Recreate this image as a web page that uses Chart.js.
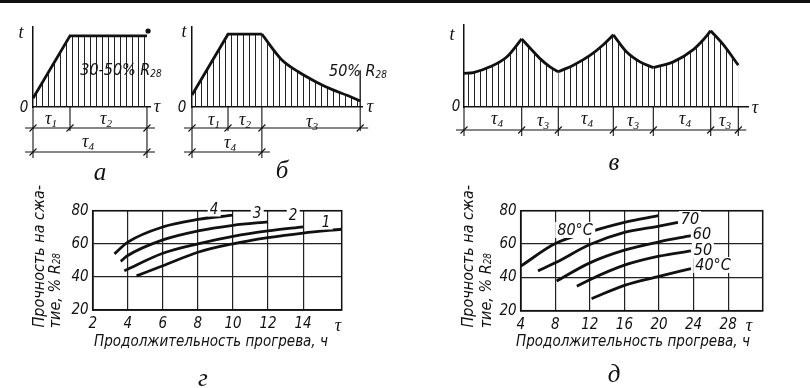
<!DOCTYPE html>
<html lang="ru">
<head>
<meta charset="UTF-8">
<meta name="viewport" content="width=device-width, initial-scale=1.0">
<title>Режимы прогрева и прочность бетона</title>
<script src="https://cdn.jsdelivr.net/npm/chart.js"></script>
<style>
    html, body { margin: 0; padding: 0; background: #fff; }
    body {
        position: relative;
        width: 810px;
        height: 388px;
        overflow: hidden;
        color: #111;
        font-family: "Liberation Sans Narrow", "DejaVu Sans Condensed", "Liberation Sans", sans-serif;
        font-style: italic;
    }
    canvas { position: absolute; }
    #topline { position: absolute; left: 0; top: 0; width: 810px; height: 3px; background: #111; }
    .t { position: absolute; transform: translate(-50%, -50%); white-space: nowrap; line-height: 1; font-size: 15px; z-index: 2; }
    .s { font-family: "Liberation Serif", serif; font-size: 18px; }
    .let { font-family: "Liberation Serif", serif; font-size: 25px; }
    .w { background: #fff; padding: 0 2px; }
    sub { font-size: 0.62em; vertical-align: -0.25em; line-height: 0; }
    /* подписи оси Y, читаются снизу вверх */
    .vt { position: absolute; writing-mode: vertical-rl; transform: rotate(180deg); white-space: nowrap;
          font-size: 16px; line-height: 17px; bottom: 60px; z-index: 2; }
</style>
</head>
<body>
    <div id="topline"></div>

    <canvas id="pa" width="165" height="190" style="left:0;top:0"></canvas>
    <canvas id="pb" width="230" height="190" style="left:165px;top:0"></canvas>
    <canvas id="pv" width="390" height="190" style="left:420px;top:0"></canvas>
    <canvas id="pg" width="360" height="198" style="left:0;top:190px"></canvas>
    <canvas id="pd" width="410" height="198" style="left:400px;top:190px"></canvas>

    <!-- а -->
    <div class="t s" style="left:21px;top:32px">t</div>
    <div class="t" style="left:24px;top:107px">0</div>
    <div class="t s" style="left:157px;top:106px">τ</div>
    <div class="t" style="left:121px;top:70px;font-size:16px">30-50% R<sub>28</sub></div>
    <div class="t s" style="left:51px;top:118px">τ<sub>1</sub></div>
    <div class="t s" style="left:106px;top:118px">τ<sub>2</sub></div>
    <div class="t s" style="left:88px;top:141px">τ<sub>4</sub></div>
    <div class="t let" style="left:100px;top:171px">а</div>

    <!-- б -->
    <div class="t s" style="left:184px;top:31px">t</div>
    <div class="t" style="left:182px;top:107px">0</div>
    <div class="t s" style="left:370px;top:106px">τ</div>
    <div class="t" style="left:358px;top:71px;font-size:16px">50% R<sub>28</sub></div>
    <div class="t s" style="left:214px;top:119px">τ<sub>1</sub></div>
    <div class="t s" style="left:245px;top:119px">τ<sub>2</sub></div>
    <div class="t s" style="left:312px;top:121px">τ<sub>3</sub></div>
    <div class="t s" style="left:230px;top:142px">τ<sub>4</sub></div>
    <div class="t let" style="left:282px;top:169px">б</div>

    <!-- в -->
    <div class="t s" style="left:452px;top:34px">t</div>
    <div class="t" style="left:456px;top:106px">0</div>
    <div class="t s" style="left:755px;top:107px">τ</div>
    <div class="t s" style="left:497px;top:118px">τ<sub>4</sub></div>
    <div class="t s" style="left:543px;top:120px">τ<sub>3</sub></div>
    <div class="t s" style="left:587px;top:118px">τ<sub>4</sub></div>
    <div class="t s" style="left:633px;top:120px">τ<sub>3</sub></div>
    <div class="t s" style="left:685px;top:118px">τ<sub>4</sub></div>
    <div class="t s" style="left:725px;top:120px">τ<sub>3</sub></div>
    <div class="t let" style="left:614px;top:161px">в</div>

    <!-- г -->
    <div class="vt" style="left:30px">Прочность на сжа-</div>
    <div class="vt" style="left:46px">тие, % R<sub>28</sub></div>
    <div class="t" style="left:211px;top:341px">Продолжительность прогрева, ч</div>
    <div class="t s" style="left:338px;top:325px">τ</div>
    <div class="t w" style="left:214px;top:209px">4</div>
    <div class="t w" style="left:257px;top:213px">3</div>
    <div class="t w" style="left:293px;top:215px">2</div>
    <div class="t w" style="left:326px;top:222px">1</div>
    <div class="t let" style="left:203px;top:377px">г</div>

    <!-- д -->
    <div class="vt" style="left:459px">Прочность на сжа-</div>
    <div class="vt" style="left:477px">тие, % R<sub>28</sub></div>
    <div class="t" style="left:633px;top:341px">Продолжительность прогрева, ч</div>
    <div class="t s" style="left:749px;top:325px">τ</div>
    <div class="t w" style="left:575px;top:230px;font-size:16px">80°C</div>
    <div class="t w" style="left:690px;top:219px;font-size:16px">70</div>
    <div class="t w" style="left:702px;top:234px;font-size:16px">60</div>
    <div class="t w" style="left:703px;top:250px;font-size:16px">50</div>
    <div class="t w" style="left:713px;top:265px;font-size:16px">40°C</div>
    <div class="t let" style="left:614px;top:373px">д</div>

    <script>
        // ---- а: подъём температуры и изотермическая выдержка (условные единицы)
        const aX = [0, 1, 3.08];
        const aT = [0.11, 0.89, 0.89];
        const aDotX = [3.11];
        const aDotT = [0.95];
        const aDim1 = [0, 1, 3.08];
        const aDim2 = [0, 3.08];

        // ---- б: подъём, выдержка, остывание
        const bRiseX = [0, 1, 1.94];
        const bRiseT = [0.15, 0.91, 0.91];
        const bCoolX = [1.94, 2.49, 2.95, 3.42, 3.88, 4.34, 4.67];
        const bCoolT = [0.91, 0.59, 0.44, 0.32, 0.22, 0.14, 0.075];
        const bMarkX = [4.67, 4.67];
        const bMarkT = [0, 0.46];
        const bDim1 = [0, 1, 1.94, 4.67];
        const bDim2 = [0, 1.94];

        // ---- в: циклический режим
        const vX = [0, 0.93, 2.6, 4.27, 5.77, 6.6, 7.6, 8.6, 9.43, 10.93, 12.6, 13.93, 14.93, 16.27, 17.6, 18.93,
                    20.93, 22.93, 23.93, 24.67, 25.93, 27.43];
        const vT = [0.41, 0.42, 0.49, 0.61, 0.83, 0.72, 0.59, 0.49, 0.43, 0.51, 0.63, 0.76, 0.88, 0.67, 0.55, 0.48,
                    0.55, 0.70, 0.82, 0.93, 0.76, 0.51];
        const vBreaks = [0, 4, 8, 12, 15, 19, 21];

        // ---- г: прочность, % R28, от продолжительности прогрева, ч
        const gTicksX = [2, 4, 6, 8, 10, 12, 14];
        const g1X = [4.5, 6, 8, 10, 12, 14, 16.2];
        const g1Y = [40.6, 46.7, 54.9, 60, 63.7, 66.5, 68.8];
        const g2X = [3.8, 6, 8, 10, 12, 14];
        const g2Y = [43.7, 54.3, 60, 64.5, 67.8, 70.2];
        const g3X = [3.6, 4, 6, 8, 10, 12];
        const g3Y = [49.4, 52.9, 62.4, 67.8, 71.2, 73.3];
        const g4X = [3.24, 4, 6, 8, 10];
        const g4Y = [53.9, 61, 70.2, 74.7, 77.3];

        // ---- д: то же при разных температурах прогрева
        const dTicksX = [4, 8, 12, 16, 20, 24, 28];
        const d80X = [4, 8, 12, 16, 19.9];
        const d80Y = [46.7, 60.3, 67.3, 73, 77];
        const d70X = [6, 8, 12, 16, 20, 22.2];
        const d70Y = [43.9, 48.7, 59.7, 67, 70.8, 73];
        const d60X = [8.15, 12, 16, 20, 23.7];
        const d60Y = [37.8, 48.7, 56.3, 61.3, 65];
        const d50X = [10.5, 12, 16, 20, 23.7];
        const d50Y = [34.6, 38.6, 47.3, 52.7, 55.9];
        const d40X = [12.2, 16, 20, 23.7];
        const d40Y = [27.2, 35.2, 40.6, 45.3];

        const INK = '#111';
        const FONT = '"Liberation Sans Narrow", "DejaVu Sans Condensed", "Liberation Sans", sans-serif';

        // вертикальная штриховка
        const HATCH = (function () {
            const c = document.createElement('canvas');
            c.width = 6; c.height = 2;
            const g = c.getContext('2d');
            g.fillStyle = '#222';
            g.fillRect(0, 0, 1, 2);
            return g.createPattern(c, 'repeat');
        })();

        function pts(xs, ys) {
            return xs.map((x, i) => ({ x: x, y: ys[i] }));
        }

        // размерные линии под осью
        function makeDims(rows, ext) {
            return {
                id: 'dims',
                afterDraw(chart) {
                    const ctx = chart.ctx;
                    const xs = chart.scales.x;
                    const base = chart.chartArea.bottom;
                    const seg = (x1, y1, x2, y2) => { ctx.beginPath(); ctx.moveTo(x1, y1); ctx.lineTo(x2, y2); ctx.stroke(); };
                    ctx.save();
                    ctx.strokeStyle = INK;
                    ctx.lineWidth = 1.1;
                    ext.forEach(e => {
                        const px = xs.getPixelForValue(e.x);
                        seg(px, base, px, base + e.len);
                    });
                    rows.forEach(r => {
                        const y = base + r.dy;
                        const p = r.ticks.map(v => xs.getPixelForValue(v));
                        seg(p[0] - 8, y, p[p.length - 1] + 8, y);
                        p.forEach(px => seg(px - 3.5, y + 3.5, px + 3.5, y - 3.5));
                    });
                    ctx.restore();
                }
            };
        }

        const framePlugin = {
            id: 'frame',
            beforeDatasetsDraw(chart) {
                const a = chart.chartArea, ctx = chart.ctx;
                ctx.save();
                ctx.strokeStyle = INK;
                ctx.lineWidth = 1.5;
                ctx.strokeRect(a.left, a.top, a.right - a.left, a.bottom - a.top);
                ctx.restore();
            }
        };

        function hatchLine(data, mode) {
            return {
                data: data,
                borderColor: INK,
                borderWidth: 2.8,
                pointRadius: 0,
                fill: 'origin',
                backgroundColor: HATCH,
                tension: 0,
                cubicInterpolationMode: mode || 'default'
            };
        }

        function heatChart(id, datasets, xMax, padding, plugin) {
            const bare = { display: false, drawTicks: false };
            return new Chart(document.getElementById(id), {
                type: 'line',
                data: { datasets: datasets },
                options: {
                    responsive: false,
                    animation: false,
                    events: [],
                    layout: { padding: padding },
                    plugins: { legend: { display: false }, tooltip: { enabled: false } },
                    scales: {
                        x: { type: 'linear', min: 0, max: xMax, grid: bare, ticks: { display: false },
                             border: { color: INK, width: 1.5 }, afterFit: s => { s.height = 0; } },
                        y: { type: 'linear', min: 0, max: 1, grid: bare, ticks: { display: false },
                             border: { color: INK, width: 1.5 }, afterFit: s => { s.width = 0; } }
                    }
                },
                plugins: [plugin]
            });
        }

        function strengthChart(id, curves, xMin, xMax, xTicks, yWidth, xHeight, padding) {
            const tickFont = { family: FONT, size: 15, style: 'italic' };
            return new Chart(document.getElementById(id), {
                type: 'line',
                data: {
                    datasets: curves.map(c => ({
                        data: pts(c[0], c[1]),
                        borderColor: INK,
                        borderWidth: 2.8,
                        pointRadius: 0,
                        fill: false,
                        cubicInterpolationMode: 'monotone'
                    }))
                },
                options: {
                    responsive: false,
                    animation: false,
                    events: [],
                    layout: { padding: padding },
                    plugins: { legend: { display: false }, tooltip: { enabled: false } },
                    scales: {
                        x: {
                            type: 'linear', min: xMin, max: xMax,
                            afterBuildTicks: s => { s.ticks = xTicks.map(v => ({ value: v })); },
                            grid: { color: '#222', lineWidth: 1.2, drawTicks: false },
                            border: { color: INK, width: 1.5 },
                            ticks: { color: INK, font: tickFont, padding: 5, maxRotation: 0, autoSkip: false },
                            afterFit: s => { s.height = xHeight; }
                        },
                        y: {
                            type: 'linear', min: 20, max: 80,
                            grid: { color: '#222', lineWidth: 1.2, drawTicks: false },
                            border: { color: INK, width: 1.5 },
                            ticks: { color: INK, font: tickFont, padding: 4, stepSize: 20 },
                            afterFit: s => { s.width = yWidth; }
                        }
                    }
                },
                plugins: [framePlugin]
            });
        }

        // а
        heatChart('pa', [
            hatchLine(pts(aX, aT)),
            { data: pts(aDotX, aDotT), showLine: false, pointRadius: 2.6, pointBackgroundColor: INK,
              pointBorderWidth: 0, fill: false, clip: false }
        ], 3.162, { left: 33, top: 27, right: 15, bottom: 83 },
            makeDims([{ dy: 21, ticks: aDim1 }, { dy: 45, ticks: aDim2 }],
                     [{ x: 0, len: 51 }, { x: 1, len: 24 }, { x: 3.08, len: 51 }]));

        // б
        heatChart('pb', [
            hatchLine(pts(bRiseX, bRiseT)),
            hatchLine(pts(bCoolX, bCoolT), 'monotone'),
            { data: pts(bMarkX, bMarkT), borderColor: INK, borderWidth: 1.3, pointRadius: 0, fill: false }
        ], 4.72, { left: 27, top: 27, right: 33, bottom: 83 },
            makeDims([{ dy: 21, ticks: bDim1 }, { dy: 45, ticks: bDim2 }],
                     [{ x: 0, len: 51 }, { x: 1, len: 24 }, { x: 1.94, len: 51 }, { x: 4.67, len: 24 }]));

        // в: отдельные монотонные участки, чтобы вершины остались острыми
        const vSegments = [];
        for (let k = 0; k < vBreaks.length - 1; k++) {
            const from = vBreaks[k], to = vBreaks[k + 1] + 1;
            vSegments.push(hatchLine(pts(vX.slice(from, to), vT.slice(from, to)), 'monotone'));
        }
        const vDim = vBreaks.map(i => vX[i]);
        heatChart('pv', vSegments, 28.4, { left: 44, top: 25, right: 62, bottom: 83 },
            makeDims([{ dy: 23, ticks: vDim }], vDim.map(x => ({ x: x, len: 29 }))));

        // г
        strengthChart('pg', [[g1X, g1Y], [g2X, g2Y], [g3X, g3Y], [g4X, g4Y]],
            2, 16.2, gTicksX, 92.7, 78, { left: 0, top: 20.7, right: 18.3, bottom: 0 });

        // д
        strengthChart('pd', [[d80X, d80Y], [d70X, d70Y], [d60X, d60Y], [d50X, d50Y], [d40X, d40Y]],
            4, 32, dTicksX, 120.7, 77.3, { left: 0, top: 20.7, right: 47.3, bottom: 0 });
    </script>
</body>
</html>
